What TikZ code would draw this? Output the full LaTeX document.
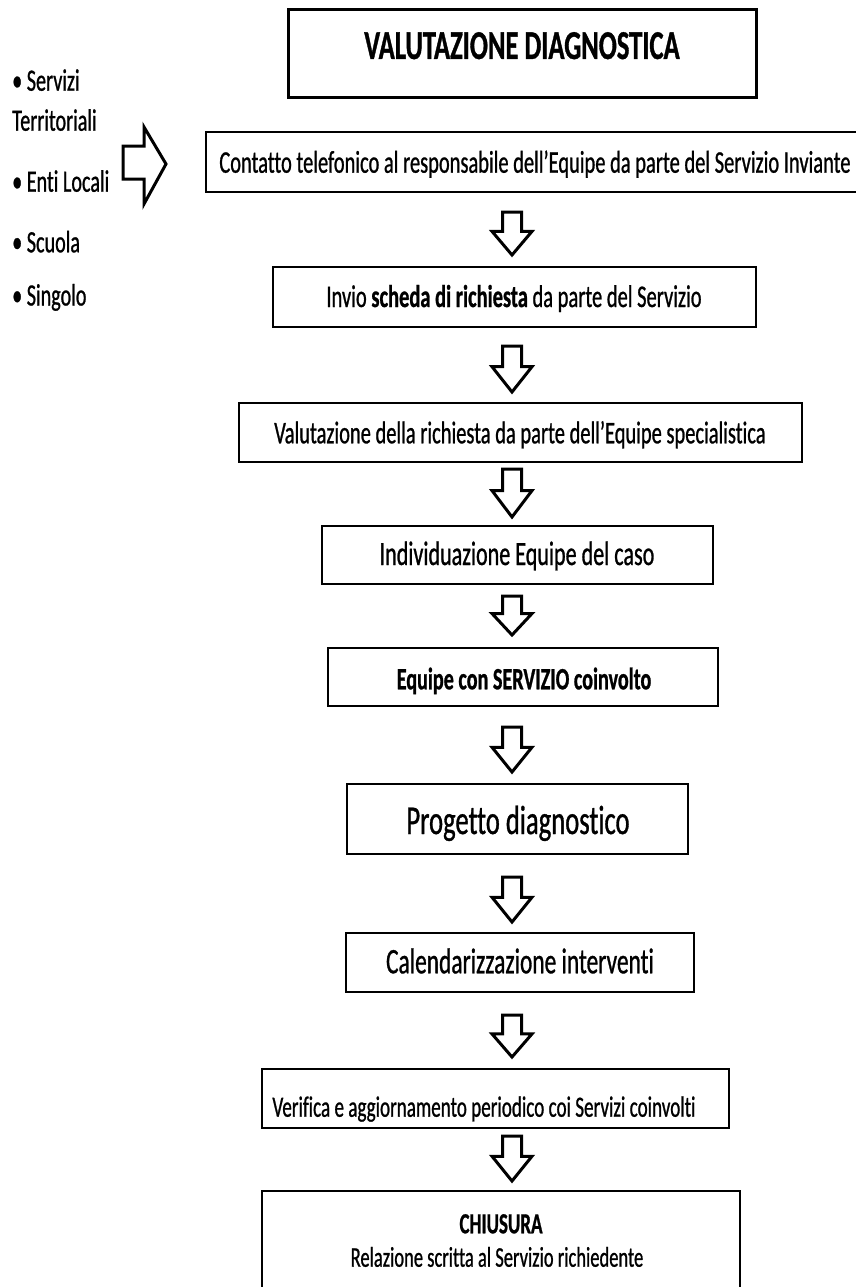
\documentclass[tikz,border=0pt]{standalone}
\usepackage{fontspec}
\setmainfont{Carlito}[FakeStretch=0.65, Ligatures=NoCommon, RawFeature={embolden=0.8}]
\newcommand{\fs}[1]{\fontsize{#1}{#1}\selectfont}
\begin{document}
\begin{tikzpicture}[x=1pt,y=-1pt,
  box/.style={draw, line width=2pt, inner sep=0pt},
  titlebox/.style={draw, line width=3pt, inner sep=0pt},
  txt/.style={anchor=base, inner sep=0pt, font=\fs{31.5}},
  ltxt/.style={anchor=base west, inner sep=0pt, font=\fs{31}},
  arrowline/.style={draw, line width=3pt, line join=miter, fill=white},
  pics/darrow/.style={code={\path[arrowline] (-9.5,0) -- (9.5,0) -- (9.5,0.45*#1) -- (20,0.45*#1) -- (0,#1) -- (-20,0.45*#1) -- (-9.5,0.45*#1) -- cycle;}}]
\useasboundingbox (0,0) rectangle (856,1287);
\clip (0,0) rectangle (856,1287);
\fill[white] (0,0) rectangle (856,1287);

% boxes
\node[titlebox, minimum width=468pt, minimum height=88pt] (title) at (522,54) {};
\node[box, minimum width=652pt, minimum height=60pt] (b1) at (532,161.7) {};
\node[box, minimum width=483pt, minimum height=60pt] (b2) at (514,297) {};
\node[box, minimum width=563pt, minimum height=59pt] (b3) at (520.5,432.5) {};
\node[box, minimum width=391pt, minimum height=58pt] (b4) at (517.3,555) {};
\node[box, minimum width=390pt, minimum height=58pt] (b5) at (523,677) {};
\node[box, minimum width=341pt, minimum height=70pt] (b6) at (517.3,819) {};
\node[box, minimum width=348pt, minimum height=59pt] (b7) at (520,962.5) {};
\node[box, minimum width=467pt, minimum height=59pt] (b8) at (495.5,1098.5) {};
\node[box, minimum width=478pt, minimum height=109pt] (b9) at (501,1245.5) {};

% texts
\node[txt, font=\fs{41}\bfseries] (t0) at (522,59) {VALUTAZIONE DIAGNOSTICA};
\node[txt] (t1) at (535,172.7) {Contatto telefonico al responsabile dell’Equipe da parte del Servizio Inviante};
\node[txt] (t2) at (514,307) {Invio \textbf{scheda di richiesta} da parte del Servizio};
\node[txt] (t3) at (520,443.3) {Valutazione della richiesta da parte dell’Equipe specialistica};
\node[txt, font=\fs{34}] (t4) at (517,565) {Individuazione Equipe del caso};
\node[txt, font=\fs{31}\bfseries] (t5) at (524,689.3) {Equipe con SERVIZIO coinvolto};
\node[txt, font=\fs{41}] (t6) at (518,834) {Progetto diagnostico};
\node[txt, font=\fs{36}] (t7) at (520,973.3) {Calendarizzazione interventi};
\node[txt, font=\fs{29.4}] (t8) at (484,1116.7) {Verifica e aggiornamento periodico coi Servizi coinvolti};
\node[txt, font=\fs{29.2}\bfseries] (t9a) at (501,1233.3) {CHIUSURA};
\node[txt, font=\fs{28.5}] (t9b) at (497,1266.7) {Relazione scritta al Servizio richiedente};

% left list
\node[ltxt] (l1) at (12,90.7) {• Servizi};
\node[ltxt] (l2) at (12,130.7) {Territoriali};
\node[ltxt] (l3) at (12,191.7) {• Enti Locali};
\node[ltxt] (l4) at (12,252.3) {• Scuola};
\node[ltxt] (l5) at (12,305.5) {• Singolo};

% left block arrow
\path[arrowline] (123,146) -- (144,146) -- (144,127) -- (166,164) -- (144,204) -- (144,179) -- (123,179) -- cycle;

% down block arrows
\path (512,212) pic {darrow=43};
\path (512,346) pic {darrow=46};
\path (512,469) pic {darrow=48};
\path (512,596) pic {darrow=39};
\path (512,727) pic {darrow=45};
\path (512,877) pic {darrow=45};
\path (512,1015) pic {darrow=42};
\path (512,1136) pic {darrow=45};
\end{tikzpicture}
\end{document}
